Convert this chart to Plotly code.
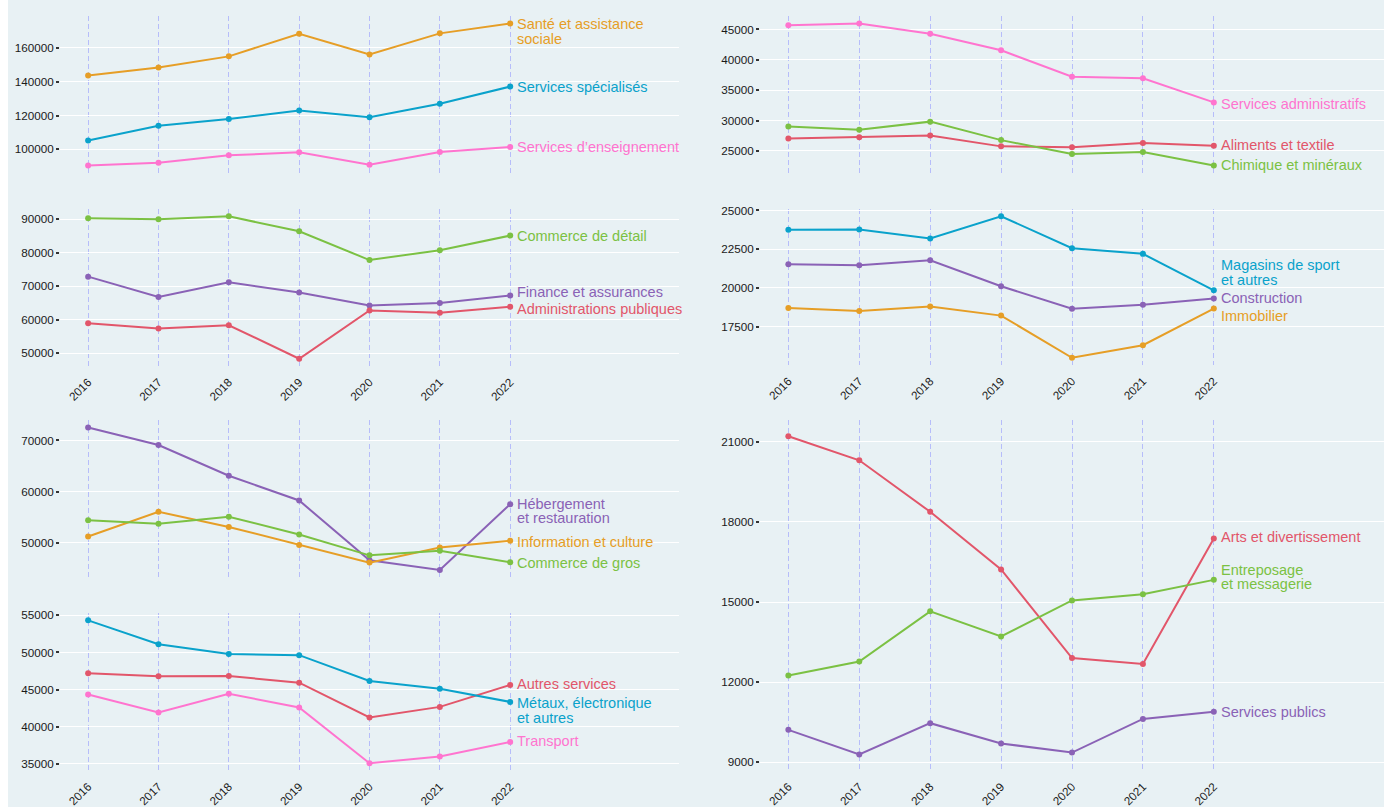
import plotly.graph_objects as go

# ---------------- data ----------------
years = [2016, 2017, 2018, 2019, 2020, 2021, 2022]

sante = [143700, 148350, 154950, 168350, 156100, 168550, 174370]
services_specialises = [105240, 114000, 117900, 122900, 119000, 127000, 137100]
enseignement = [90490, 92040, 96500, 98250, 90870, 98450, 101360]

commerce_detail = [90300, 90000, 90900, 86450, 77850, 80800, 85150]
finance = [72900, 66800, 71250, 68150, 64300, 65000, 67300]
admin_publiques = [59000, 57400, 58400, 48400, 62800, 62150, 63900]

hebergement = [72520, 69100, 63100, 58260, 46580, 44710, 57550]
information = [51230, 56060, 53100, 49550, 46130, 49100, 50390]
commerce_gros = [54390, 53740, 55100, 51610, 47550, 48450, 46190]

metaux = [54330, 51110, 49780, 49640, 46150, 45120, 43340]
autres_services = [47190, 46790, 46830, 45930, 41240, 42670, 45620]
transport = [44340, 41920, 44430, 42590, 35090, 35990, 37950]

services_admin = [45700, 45980, 44300, 41570, 37230, 36960, 33000]
aliments = [27060, 27280, 27550, 25760, 25600, 26300, 25870]
chimique = [29020, 28480, 29830, 26790, 24510, 24840, 22620]

magasins = [23750, 23770, 23190, 24620, 22560, 22200, 19850]
construction = [21530, 21470, 21790, 20110, 18660, 18920, 19320]
immobilier = [18710, 18520, 18800, 18220, 15500, 16310, 18670]

arts = [21210, 20310, 18380, 16220, 12900, 12680, 17380]
entreposage = [12250, 12770, 14650, 13710, 15060, 15290, 15830]
services_publics = [10210, 9290, 10460, 9700, 9360, 10620, 10890]

# ---------------- styles ----------------
ORANGE = "#E69E26"
BLUE = "#0AA2CB"
PINK = "#FF74CF"
GREEN = "#7BC143"
PURPLE = "#8A62B6"
RED = "#E2566A"
BG = "#E8F1F4"
FONT = "Liberation Sans, Arial, sans-serif"
OFFX = 8                      # page left white strip
W, H = 1384 - OFFX, 807
LINE_GAP = 14.3

LEFT = (60 - OFFX, 679 - OFFX)
RIGHT = (760 - OFFX, 1384 - OFFX)

# each panel: column, top px, bottom px, dtick, show x labels, series
panels = [
    dict(col=LEFT, top=10.5, bottom=168, dtick=20000, xlab=False, series=[
        (sante, ["Santé et assistance", "sociale"], ORANGE, -0.7),
        (services_specialises, ["Services spécialisés"], BLUE, 0),
        (enseignement, ["Services d’enseignement"], PINK, 0)]),
    dict(col=LEFT, top=205, bottom=363, dtick=10000, xlab=True, series=[
        (commerce_detail, ["Commerce de détail"], GREEN, 0),
        (finance, ["Finance et assurances"], PURPLE, 3.4),
        (admin_publiques, ["Administrations publiques"], RED, -2.3)]),
    dict(col=LEFT, top=418, bottom=576, dtick=10000, xlab=False, series=[
        (hebergement, ["Hébergement", "et restauration"], PURPLE, 0),
        (information, ["Information et culture"], ORANGE, -0.7),
        (commerce_gros, ["Commerce de gros"], GREEN, -1)]),
    dict(col=LEFT, top=612.5, bottom=771, dtick=5000, xlab=True, series=[
        (autres_services, ["Autres services"], RED, 1.3),
        (metaux, ["Métaux, électronique", "et autres"], BLUE, -1.3),
        (transport, ["Transport"], PINK, 0.7)]),
    dict(col=RIGHT, top=10.5, bottom=168, dtick=5000, xlab=False, series=[
        (services_admin, ["Services administratifs"], PINK, -1.3),
        (aliments, ["Aliments et textile"], RED, 1),
        (chimique, ["Chimique et minéraux"], GREEN, 0.7)]),
    dict(col=RIGHT, top=205, bottom=362, dtick=2500, xlab=True, series=[
        (magasins, ["Magasins de sport", "et autres"], BLUE, 25),
        (construction, ["Construction"], PURPLE, 1),
        (immobilier, ["Immobilier"], ORANGE, -7)]),
    dict(col=RIGHT, top=418, bottom=771, dtick=3000, xlab=True, series=[
        (arts, ["Arts et divertissement"], RED, 1),
        (entreposage, ["Entreposage", "et messagerie"], GREEN, 9.7),
        (services_publics, ["Services publics"], PURPLE, 0)]),
]

fig = go.Figure()
annotations = []
layout = {}

for i, p in enumerate(panels, start=1):
    xa = "x" if i == 1 else f"x{i}"
    ya = "y" if i == 1 else f"y{i}"
    allv = [v for s in p["series"] for v in s[0]]
    lo, hi = min(allv), max(allv)
    pad = (hi - lo) * 0.05
    for vals, label, color, off in p["series"]:
        fig.add_trace(go.Scatter(
            x=years, y=vals, xaxis=xa, yaxis=ya, mode="lines+markers",
            line=dict(color=color, width=2), marker=dict(color=color, size=6),
            showlegend=False, hoverinfo="x+y"))
        for k, line in enumerate(label):
            annotations.append(dict(
                x=years[-1], y=vals[-1], xref=xa, yref=ya, text=line,
                showarrow=False, xanchor="left", yanchor="middle",
                xshift=5, yshift=off - k * LINE_GAP,
                font=dict(family=FONT, size=14.5, color=color)))
    layout["xaxis" if i == 1 else f"xaxis{i}"] = dict(
        domain=[p["col"][0] / W, p["col"][1] / W],
        range=[2015.6, 2024.4], anchor=ya,
        tickvals=years, ticktext=[str(y) for y in years],
        showticklabels=p["xlab"], tickangle=-45,
        tickfont=dict(family=FONT, size=11.7, color="#1a1a1a"),
        ticks="outside", ticklen=4, tickcolor="rgba(0,0,0,0)",
        showgrid=True, gridcolor="rgba(140,145,255,0.55)", griddash="5px,3px",
        gridwidth=1, zeroline=False, showline=False)
    layout["yaxis" if i == 1 else f"yaxis{i}"] = dict(
        domain=[1 - p["bottom"] / H, 1 - p["top"] / H],
        range=[lo - pad, hi + pad], anchor=xa, dtick=p["dtick"], tickformat="d",
        tickfont=dict(family=FONT, size=11.7, color="#1a1a1a"),
        ticks="outside", ticklen=3, tickwidth=1.5, tickcolor="#333",
        showgrid=True, gridcolor="white", gridwidth=1.3,
        zeroline=False, showline=False)

fig.update_layout(
    width=W, height=H, margin=dict(l=0, r=0, t=0, b=0),
    paper_bgcolor=BG, plot_bgcolor=BG,
    font=dict(family=FONT),
    annotations=annotations, **layout)

fig.write_html(
    "out.html",
    post_script="document.body.style.margin='0px 0px 0px %dpx';"
                "document.body.style.overflow='hidden';" % OFFX)
